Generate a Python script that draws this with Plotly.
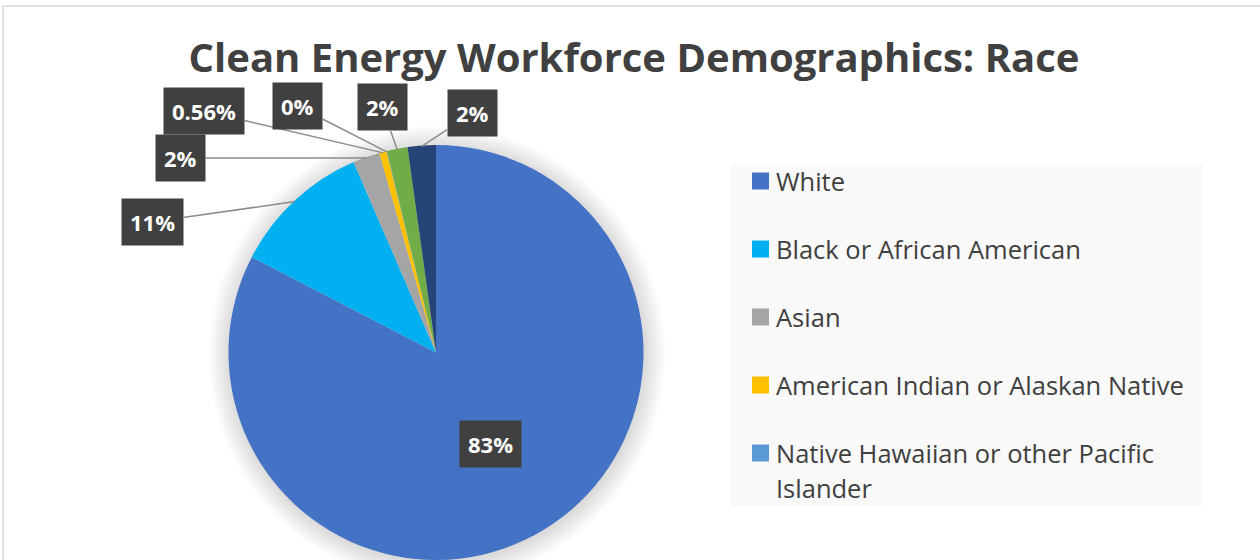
import math
import textwrap
import plotly.graph_objects as go

# ---- data ----
labels = ["White", "Black or African American", "Asian",
          "American Indian or Alaskan Native",
          "Native Hawaiian or other Pacific Islander",
          "Two or More Races", "Other"]
values = [82.6, 10.9, 2.1, 0.56, 0.04, 1.6, 2.2]
label_text = ["83%", "11%", "2%", "0.56%", "0%", "2%", "2%"]
colors = ["#4472C4", "#00B0F0", "#A5A5A5", "#FFC000", "#5B9BD5", "#70AD47", "#264478"]

# ---- layout geometry (pixels) ----
W, H = 1260, 560
cx, cy, r = 436, 352.5, 207.5
label_pos = [(490, 444), (152, 222), (180, 158), (204, 111), (297, 106), (382, 107), (472, 113)]
TXT = "#404040"
FONT = "Open Sans"


def px(x):
    return x / W


def py(y):
    return 1 - y / H


fig = go.Figure(go.Pie(
    labels=labels, values=values, sort=False, direction="clockwise", rotation=0,
    marker=dict(colors=colors, line=dict(width=0)),
    textinfo="none", showlegend=False,
    domain=dict(x=[px(cx - r), px(cx + r)], y=[0, py(cy - r)]),
))

shapes = []
# chart border
shapes.append(dict(type="rect", xref="paper", yref="paper", x0=px(3), x1=1.05,
                   y0=-0.05, y1=py(6), line=dict(color="#d9d9d9", width=1.5),
                   fillcolor="rgba(0,0,0,0)", layer="below"))
# soft pie shadow
for k in range(12):
    rr = r + 1 + k * 1.8
    shapes.append(dict(type="circle", xref="paper", yref="paper",
                       x0=px(cx + 1 - rr), x1=px(cx + 1 + rr),
                       y0=py(cy + 2 + rr), y1=py(cy + 2 - rr),
                       fillcolor="rgba(0,0,0,0.013)", line=dict(width=0), layer="below"))
# legend background
shapes.append(dict(type="rect", xref="paper", yref="paper", x0=px(731), x1=px(1203),
                   y0=py(506), y1=py(165), fillcolor="#f9f9f9", line=dict(width=0),
                   layer="below"))

annotations = []
# data labels with leader lines
total = sum(values)
cum = 0.0
for i, v in enumerate(values):
    mid = (cum + v / 2) / total * 2 * math.pi
    cum += v
    lx, ly = label_pos[i]
    box = dict(text="<b>%s</b>" % label_text[i], font=dict(family=FONT, size=22, color="white"),
               bgcolor="#404040", borderpad=8, xref="paper", yref="paper")
    if i == 0:
        annotations.append(dict(box, x=px(lx), y=py(ly), showarrow=False,
                                xanchor="center", yanchor="middle"))
    else:
        axp = cx + (r - 1) * math.sin(mid)
        ayp = cy - (r - 1) * math.cos(mid)
        annotations.append(dict(box, x=px(axp), y=py(ayp), showarrow=True,
                                ax=lx - axp, ay=ly - ayp, arrowhead=0,
                                arrowwidth=1.5, arrowcolor="#8c8c8c", standoff=0))

# legend (only the entries that fit in the legend area)
row_y = 181
for i in range(5):
    shapes.append(dict(type="rect", xref="paper", yref="paper",
                       x0=px(752), x1=px(769), y0=py(row_y + 8.5), y1=py(row_y - 8.5),
                       fillcolor=colors[i], line=dict(width=0)))
    lines = textwrap.wrap(labels[i], 34)
    for j, ln in enumerate(lines):
        annotations.append(dict(text=ln, x=px(774), y=py(row_y + 35 * j), xref="paper",
                                yref="paper", xanchor="left", yanchor="middle",
                                showarrow=False,
                                font=dict(family=FONT, size=25.5, color=TXT)))
    row_y += 68

fig.update_layout(
    width=W, height=H, margin=dict(l=0, r=0, t=0, b=0),
    paper_bgcolor="white", plot_bgcolor="white",
    title=dict(text="<b>Clean Energy Workforce Demographics: Race</b>",
               x=px(634), y=py(58), xanchor="center", yanchor="middle",
               font=dict(family=FONT, size=40, color=TXT)),
    shapes=shapes, annotations=annotations,
)

fig.write_html("out.html", config={"displayModeBar": False},
               post_script="document.body.style.margin='0';document.body.style.overflow='hidden';")
